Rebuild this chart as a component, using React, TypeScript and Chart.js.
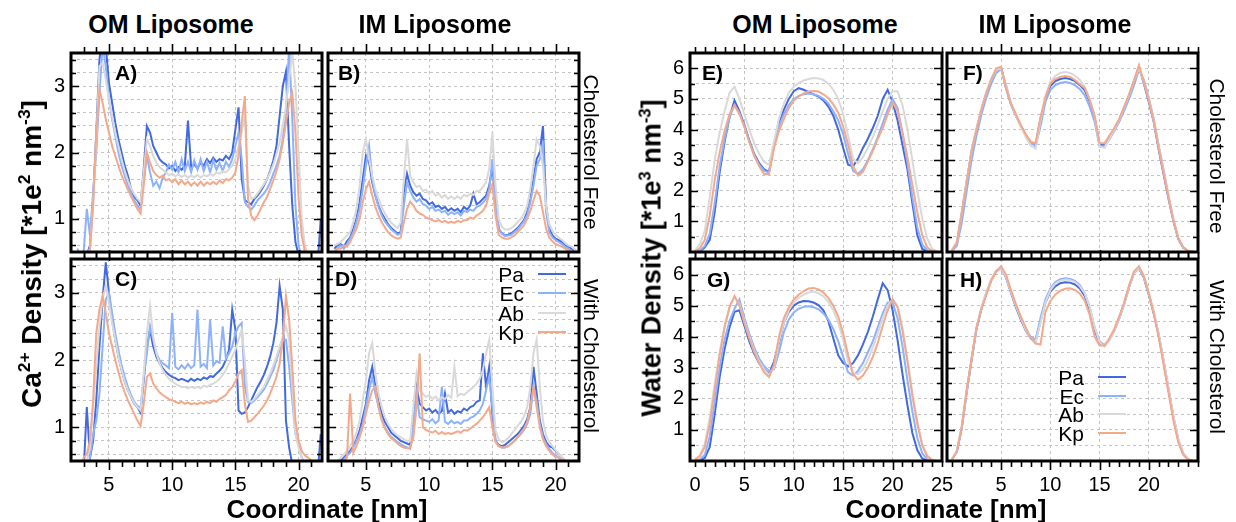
import React, { useEffect, useRef } from 'react';
import { Chart, registerables } from 'chart.js';

Chart.register(...registerables);

const FONT = '"Liberation Sans", Arial, Helvetica, sans-serif';

// ---------- shared axes ----------
const caX = [
  2.5, 2.75,
  3, 3.25, 3.5, 3.75, 4, 4.25, 4.5, 4.75, 5, 5.25, 5.5, 5.75, 6, 6.25, 6.5, 6.75,
  7, 7.25, 7.5, 7.75, 8, 8.25, 8.5, 8.75, 9, 9.25, 9.5, 9.75, 10, 10.25, 10.5, 10.75,
  11, 11.25, 11.5, 11.75, 12, 12.25, 12.5, 12.75, 13, 13.25, 13.5, 13.75, 14, 14.25, 14.5, 14.75,
  15, 15.25, 15.5, 15.75, 16, 16.25, 16.5, 16.75, 17, 17.25, 17.5, 17.75, 18, 18.25, 18.5, 18.75,
  19, 19.25, 19.5, 19.75, 20, 20.25, 20.5, 20.75, 21, 21.25, 21.5, 21.75,
];
const waterX = [
  0, 0.5, 1, 1.5, 2, 2.5, 3, 3.5, 4, 4.5,
  5, 5.5, 6, 6.5, 7, 7.5, 8, 8.5, 9, 9.5,
  10, 10.5, 11, 11.5, 12, 12.5, 13, 13.5, 14, 14.5,
  15, 15.5, 16, 16.5, 17, 17.5, 18, 18.5, 19, 19.5,
  20, 20.5, 21, 21.5, 22, 22.5, 23, 23.5, 24, 24.5,
];

const caXTicks = [5, 10, 15, 20];
const caXMinor = [3, 4, 5, 6, 7, 8, 9, 10, 11, 12, 13, 14, 15, 16, 17, 18, 19, 20, 21];
const caYTicks = [1, 2, 3];
const caYMinor = [0.6, 0.8, 1, 1.2, 1.4, 1.6, 1.8, 2, 2.2, 2.4, 2.6, 2.8, 3, 3.2, 3.4];
const waterXTicksOM = [0, 5, 10, 15, 20, 25];
const waterXTicksIM = [5, 10, 15, 20];
const waterXGrid = [5, 10, 15, 20];
const waterXMinor = [0, 1, 2, 3, 4, 5, 6, 7, 8, 9, 10, 11, 12, 13, 14, 15, 16, 17, 18, 19, 20, 21, 22, 23, 24, 25];
const waterYTicks = [1, 2, 3, 4, 5, 6];
const waterYMinor = [0.5, 1, 1.5, 2, 2.5, 3, 3.5, 4, 4.5, 5, 5.5, 6];

const seriesNames = ['Pa', 'Ec', 'Ab', 'Kp'];
const seriesColors = ['#4169e1', '#8cb2ff', '#d9d9d9', '#f5a88a'];

// ---------- Ca2+ density, panel A (OM, cholesterol free) ----------
const caA_Pa = [0.3, 0.3,
  0.35, 0.45, 0.6, 1.3, 2.3, 3.4, 3.8, 3.6, 3.05, 2.75, 2.45, 2.2, 2.0, 1.8, 1.65, 1.45,
  1.33, 1.28, 1.2, 1.75, 2.4, 2.3, 2.1, 2.0, 1.9, 1.85, 1.82, 1.76, 1.8, 1.72, 1.78, 1.74,
  1.8, 2.48, 1.78, 1.82, 1.76, 1.85, 1.8, 1.9, 1.84, 1.92, 1.86, 1.9, 1.88, 1.95, 1.9, 2.0,
  2.35, 2.68, 1.6, 1.28, 1.25, 1.22, 1.3, 1.35, 1.42, 1.5, 1.6, 1.72, 1.88, 2.1, 2.55, 3.0,
  3.22, 2.1, 1.2, 0.65, 0.45, 0.35, 0.3, 0.3, 0.3, 0.3, 0.3, 1.0];
const caA_Ec = [0.55, 0.45,
  0.5, 1.15, 0.75, 1.4, 2.0, 2.9, 3.6, 3.3, 2.8, 2.5, 2.25, 2.0, 1.8, 1.65, 1.5, 1.38,
  1.28, 1.2, 1.14, 1.6, 1.95, 1.7, 1.5, 1.56, 1.46, 1.62, 1.7, 1.82, 1.74, 1.86, 1.7, 1.9,
  1.72, 1.86, 1.7, 1.88, 1.74, 1.9, 1.72, 1.86, 1.7, 1.88, 1.74, 1.84, 1.72, 1.86, 1.78, 1.9,
  2.1, 2.3, 1.9, 1.25, 1.18, 1.14, 1.2, 1.28, 1.33, 1.38, 1.45, 1.55, 1.68, 1.8, 1.95, 2.2,
  2.6, 3.6, 2.5, 1.2, 0.6, 0.4, 0.3, 0.3, 0.3, 0.3, 0.3, 0.3];
const caA_Ab = [0.3, 0.3,
  0.35, 0.45, 0.55, 1.2, 2.2, 3.3, 3.35, 3.1, 2.8, 2.55, 2.3, 2.1, 1.9, 1.72, 1.58, 1.46,
  1.37, 1.3, 1.25, 1.7, 2.2, 2.1, 1.95, 1.85, 1.78, 1.74, 1.7, 1.66, 1.68, 1.64, 1.67, 1.63,
  1.66, 1.62, 1.65, 1.63, 1.66, 1.62, 1.66, 1.64, 1.68, 1.65, 1.7, 1.68, 1.72, 1.7, 1.75, 1.8,
  1.9, 2.1, 2.3, 2.55, 1.5, 1.3, 1.32, 1.38, 1.45, 1.52, 1.6, 1.7, 1.82, 1.98, 2.15, 2.4,
  2.7, 3.1, 3.5, 3.0, 2.0, 1.0, 0.6, 0.45, 0.35, 0.3, 0.3, 0.3];
const caA_Kp = [0.3, 0.3,
  0.35, 0.42, 0.55, 1.2, 2.3, 2.95, 2.75, 2.5, 2.3, 2.1, 1.95, 1.8, 1.66, 1.55, 1.44, 1.34,
  1.24, 1.15, 1.08, 1.5, 2.0, 1.85, 1.72, 1.66, 1.62, 1.65, 1.58, 1.6, 1.55, 1.6, 1.52, 1.58,
  1.52, 1.56, 1.5, 1.55, 1.5, 1.56, 1.5, 1.55, 1.52, 1.56, 1.52, 1.58, 1.54, 1.6, 1.58, 1.62,
  1.7, 1.95, 2.45, 2.85, 1.3, 1.05, 0.98, 1.05, 1.15, 1.25, 1.33, 1.45, 1.58, 1.72, 1.9, 2.15,
  2.45, 2.75, 2.9, 2.3, 1.3, 0.75, 0.5, 0.35, 0.3, 0.3, 0.3, 0.3];

// ---------- panel B (IM, cholesterol free) ----------
const caB_Pa = [0.55, 0.6,
  0.62, 0.58, 0.66, 0.72, 0.85, 1.0, 1.25, 1.6, 1.95, 1.85, 1.55, 1.35, 1.2, 1.08, 1.0, 0.92,
  0.86, 0.82, 0.78, 0.8, 1.4, 1.68, 1.5, 1.4, 1.35, 1.38, 1.3, 1.28, 1.22, 1.25, 1.18, 1.2,
  1.15, 1.18, 1.12, 1.16, 1.12, 1.15, 1.1, 1.18, 1.14, 1.2, 1.38, 1.22, 1.25, 1.3, 1.35, 1.5,
  1.78, 1.3, 0.85, 0.78, 0.75, 0.76, 0.78, 0.82, 0.86, 0.92, 0.98, 1.1, 1.3, 1.6, 1.9, 2.0,
  2.4, 1.2, 0.85, 0.75, 0.7, 0.68, 0.65, 0.6, 0.58, 0.55, 0.5, 0.45];
const caB_Ec = [0.5, 0.55,
  0.6, 0.55, 0.62, 0.7, 0.8, 0.95, 1.15, 1.45, 1.8, 2.1, 1.6, 1.35, 1.18, 1.05, 0.96, 0.9,
  0.84, 0.8, 0.76, 0.78, 1.2, 1.55, 1.42, 1.32, 1.26, 1.3, 1.22, 1.2, 1.15, 1.18, 1.12, 1.14,
  1.1, 1.12, 1.06, 1.1, 1.07, 1.1, 1.05, 1.12, 1.1, 1.14, 1.12, 1.18, 1.2, 1.24, 1.3, 1.45,
  1.9, 1.25, 0.85, 0.78, 0.74, 0.75, 0.76, 0.8, 0.84, 0.9, 0.96, 1.06, 1.25, 1.5, 1.8, 1.9,
  2.1, 1.1, 0.8, 0.72, 0.68, 0.65, 0.62, 0.58, 0.55, 0.52, 0.48, 0.45];
const caB_Ab = [0.6, 0.62,
  0.65, 0.7, 0.75, 0.8, 0.95, 1.15, 1.5, 2.0, 2.2, 1.9, 1.65, 1.45, 1.3, 1.18, 1.08, 1.0,
  0.94, 0.9, 0.86, 0.95, 1.6, 2.2, 1.65, 1.55, 1.48, 1.5, 1.42, 1.44, 1.38, 1.42, 1.35, 1.38,
  1.32, 1.36, 1.3, 1.34, 1.3, 1.34, 1.3, 1.36, 1.34, 1.38, 1.36, 1.42, 1.42, 1.48, 1.55, 1.75,
  2.3, 1.5, 1.0, 0.88, 0.84, 0.84, 0.86, 0.9, 0.95, 1.0, 1.08, 1.2, 1.45, 1.8, 2.2, 2.1,
  1.8, 1.2, 0.92, 0.82, 0.76, 0.72, 0.68, 0.64, 0.6, 0.58, 0.55, 0.5];
const caB_Kp = [0.5, 0.55,
  0.55, 0.6, 0.58, 0.65, 0.75, 0.85, 1.0, 1.25, 1.45, 1.56, 1.35, 1.18, 1.05, 0.95, 0.87, 0.8,
  0.75, 0.72, 0.7, 0.72, 0.95, 1.15, 1.26, 1.2, 1.12, 1.08, 1.06, 1.02, 1.0, 0.98, 0.96, 0.98,
  0.95, 0.97, 0.94, 0.96, 0.94, 0.97, 0.95, 0.98, 0.98, 1.02, 1.0, 1.05, 1.08, 1.12, 1.2, 1.38,
  1.52, 1.05, 0.76, 0.72, 0.7, 0.7, 0.72, 0.75, 0.8, 0.85, 0.9, 1.0, 1.12, 1.28, 1.42, 1.35,
  1.1, 0.85, 0.72, 0.66, 0.62, 0.6, 0.58, 0.55, 0.52, 0.5, 0.5, 0.48];

// ---------- panel C (OM, with cholesterol) ----------
const caC_Pa = [0.3, 0.3,
  0.35, 1.3, 0.55, 0.8, 1.4, 2.2, 2.9, 3.45, 3.0, 2.6, 2.3, 2.05, 1.85, 1.68, 1.55, 1.45,
  1.35, 1.3, 1.22, 1.7, 2.2, 2.45, 2.2, 2.05, 1.95, 1.88, 1.82, 1.78, 1.75, 1.73, 1.7, 1.72,
  1.7, 1.68, 1.72, 1.69, 1.72, 1.7, 1.74, 1.72, 1.76, 1.75, 1.8, 1.84, 1.9, 2.0, 2.15, 2.75,
  2.45, 1.25, 1.2, 1.22, 1.3, 1.4, 1.5, 1.6, 1.68, 1.78, 1.9, 2.05, 2.25, 2.55, 3.1, 2.75,
  1.1, 0.7, 0.45, 0.3, 0.3, 0.3, 0.3, 0.3, 0.3, 0.3, 0.3, 0.9];
const caC_Ec = [0.3, 0.3,
  0.3, 0.4, 0.55, 0.9, 1.1, 1.5, 2.2, 2.9, 3.0, 2.7, 2.4, 2.15, 1.92, 1.75, 1.6, 1.48,
  1.38, 1.32, 1.28, 1.75, 2.1, 2.5, 2.3, 2.1, 2.0, 1.95, 1.92, 1.88, 2.7, 1.9, 1.86, 1.92,
  1.87, 1.94, 1.88, 1.92, 2.75, 1.9, 1.94, 1.88, 2.6, 1.92, 1.98, 1.96, 2.5, 2.02, 2.1, 2.2,
  2.4, 2.5, 2.55, 1.6, 1.38, 1.36, 1.4, 1.45, 1.5, 1.56, 1.65, 1.75, 1.85, 2.0, 2.15, 2.3,
  2.3, 1.9, 1.4, 0.9, 0.75, 0.55, 0.45, 0.35, 0.3, 0.3, 0.3, 0.3];
const caC_Ab = [0.3, 0.3,
  0.35, 0.5, 0.7, 1.3, 1.9, 2.5, 2.9, 3.1, 2.85, 2.55, 2.3, 2.05, 1.85, 1.68, 1.55, 1.45,
  1.36, 1.3, 1.25, 1.8, 2.4, 2.8, 2.35, 2.1, 1.95, 1.85, 1.78, 1.72, 1.68, 1.65, 1.62, 1.6,
  1.6, 1.58, 1.6, 1.58, 1.6, 1.58, 1.62, 1.6, 1.63, 1.65, 1.68, 1.72, 1.78, 1.85, 1.95, 2.05,
  2.15, 2.3, 2.45, 2.0, 1.4, 1.38, 1.42, 1.48, 1.54, 1.6, 1.7, 1.8, 1.92, 2.05, 2.2, 2.35,
  2.5, 2.3, 1.6, 0.9, 0.7, 0.55, 0.45, 0.35, 0.3, 0.3, 0.3, 0.3];
const caC_Kp = [0.3, 0.3,
  0.55, 0.6, 0.8, 1.4, 2.4, 2.75, 2.95, 2.7, 2.4, 2.2, 2.0, 1.82, 1.65, 1.52, 1.4, 1.3,
  1.2, 1.1, 1.02, 1.35, 1.75, 1.8, 1.65, 1.58, 1.52, 1.48, 1.45, 1.42, 1.4, 1.38, 1.36, 1.38,
  1.35, 1.37, 1.34, 1.36, 1.34, 1.37, 1.35, 1.38, 1.36, 1.4, 1.38, 1.42, 1.45, 1.48, 1.55, 1.6,
  1.68, 1.8, 1.85, 1.35, 1.08, 1.1, 1.15, 1.2, 1.26, 1.32, 1.4, 1.5, 1.62, 1.75, 1.95, 2.3,
  2.95, 2.6, 1.9, 1.1, 0.8, 0.65, 0.58, 0.55, 0.5, 0.45, 0.35, 0.3];

// ---------- panel D (IM, with cholesterol) ----------
const caD_Pa = [0.35, 0.45,
  0.5, 0.55, 0.6, 0.65, 0.72, 0.82, 0.95, 1.15, 1.35, 1.7, 1.9, 1.6, 1.38, 1.2, 1.08, 1.0,
  0.92, 0.88, 0.84, 0.8, 0.78, 0.76, 0.74, 1.1, 1.6, 1.35, 1.3, 1.25, 1.28, 1.22, 1.26, 1.2,
  1.24, 1.5, 1.22, 1.26, 1.2, 1.24, 1.22, 1.28, 1.25, 1.3, 1.32, 1.38, 1.4, 2.1, 1.6, 1.9,
  1.2, 0.8, 0.74, 0.72, 0.74, 0.78, 0.82, 0.86, 0.9, 0.96, 1.02, 1.12, 1.3, 1.9, 1.5, 1.1,
  0.9, 0.78, 0.72, 0.7, 0.65, 0.6, 0.55, 0.5, 0.45, 0.4, 0.35, 0.3];
const caD_Ec = [0.35, 0.45,
  0.48, 0.52, 0.58, 0.62, 0.7, 0.8, 0.9, 1.05, 1.3, 1.55, 1.75, 1.5, 1.3, 1.12, 1.0, 0.92,
  0.86, 0.82, 0.78, 0.75, 0.72, 0.7, 0.68, 1.0, 1.5, 1.15, 1.12, 1.1, 1.08, 1.12, 1.06, 1.1,
  1.6, 1.08, 1.05, 1.1, 1.06, 1.08, 1.05, 1.1, 1.1, 1.14, 1.16, 1.2, 1.25, 1.35, 1.55, 1.75,
  1.3, 0.8, 0.72, 0.7, 0.7, 0.72, 0.76, 0.8, 0.85, 0.9, 0.96, 1.05, 1.2, 1.6, 1.4, 1.05,
  0.85, 0.75, 0.68, 0.62, 0.58, 0.55, 0.5, 0.45, 0.4, 0.35, 0.3, 0.3];
const caD_Ab = [0.45, 0.5,
  0.55, 0.6, 0.65, 0.72, 0.8, 0.92, 1.1, 1.4, 1.7, 2.1, 2.25, 1.8, 1.5, 1.3, 1.15, 1.05,
  0.98, 0.92, 0.88, 0.85, 0.82, 0.8, 0.8, 1.3, 1.8, 1.55, 1.5, 1.45, 1.48, 1.42, 1.46, 1.4,
  1.45, 1.42, 1.48, 1.44, 1.9, 1.46, 1.5, 1.48, 1.52, 1.56, 1.6, 1.65, 1.72, 1.85, 2.1, 2.3,
  1.6, 0.95, 0.82, 0.78, 0.8, 0.84, 0.9, 0.96, 1.02, 1.08, 1.16, 1.3, 1.6, 2.1, 2.3, 1.6,
  1.1, 0.88, 0.78, 0.72, 0.66, 0.6, 0.55, 0.5, 0.45, 0.4, 0.35, 0.3];
const caD_Kp = [0.3, 0.4,
  0.45, 0.5, 0.55, 1.5, 0.62, 0.72, 0.85, 1.0, 1.2, 1.4, 1.55, 1.6, 1.3, 1.1, 0.98, 0.9,
  0.84, 0.8, 0.76, 0.72, 0.7, 0.69, 0.7, 0.85, 1.3, 2.1, 1.0, 0.96, 0.94, 0.92, 0.95, 0.9,
  0.93, 0.9, 0.92, 0.9, 0.92, 0.94, 0.92, 0.96, 0.95, 0.98, 1.02, 1.05, 1.1, 1.15, 1.22, 1.3,
  1.0, 0.78, 0.72, 0.7, 0.7, 0.72, 0.76, 0.8, 0.86, 0.92, 0.98, 1.08, 1.3, 1.6, 1.3, 1.0,
  0.82, 0.72, 0.65, 0.6, 0.56, 0.55, 0.52, 0.5, 0.48, 0.45, 0.5, 0.42];

// ---------- water density, panel E (OM, cholesterol free) ----------
const wE_Pa = [0.0, 0.02, 0.15, 0.4, 1.3, 2.6, 3.6, 4.4, 4.95, 4.6,
  4.15, 3.65, 3.2, 2.9, 2.7, 2.62, 3.5, 4.2, 4.65, 5.0,
  5.25, 5.35, 5.3, 5.22, 5.15, 5.08, 4.95, 4.75, 4.45, 4.0,
  3.4, 2.85, 2.8, 3.05, 3.4, 3.7, 4.05, 4.45, 5.0, 5.3,
  4.9, 4.3, 3.5, 2.7, 1.6, 0.55, 0.1, 0.02, 0.0, 0.0];
const wE_Ec = [0.0, 0.05, 0.2, 0.6, 1.6, 2.8, 3.7, 4.4, 4.8, 4.55,
  4.1, 3.6, 3.15, 2.85, 2.65, 2.6, 3.45, 4.1, 4.5, 4.8,
  5.0, 5.1, 5.15, 5.18, 5.15, 5.1, 5.0, 4.85, 4.6, 4.3,
  3.85, 3.2, 2.65, 2.55, 2.7, 3.0, 3.35, 3.75, 4.2, 4.65,
  5.0, 4.7, 3.9, 2.9, 1.8, 0.8, 0.25, 0.05, 0.0, 0.0];
const wE_Ab = [0.05, 0.25, 0.7, 1.8, 3.0, 3.9, 4.6, 5.2, 5.4, 5.0,
  4.5, 4.0, 3.55, 3.2, 2.95, 2.85, 3.6, 4.35, 4.85, 5.2,
  5.4, 5.52, 5.6, 5.65, 5.68, 5.67, 5.62, 5.5, 5.3, 5.0,
  4.5, 3.8, 3.05, 2.9, 3.1, 3.4, 3.75, 4.15, 4.6, 5.0,
  5.25, 5.25, 4.8, 4.0, 3.0, 2.0, 1.1, 0.45, 0.1, 0.02];
const wE_Kp = [0.02, 0.12, 0.4, 1.2, 2.35, 3.25, 3.95, 4.5, 4.8, 4.5,
  4.1, 3.6, 3.15, 2.8, 2.55, 2.55, 3.4, 3.95, 4.35, 4.7,
  4.95, 5.08, 5.18, 5.24, 5.26, 5.24, 5.15, 5.02, 4.82, 4.55,
  4.1, 3.5, 2.8, 2.5, 2.62, 2.95, 3.3, 3.7, 4.05, 4.5,
  4.88, 4.6, 3.9, 3.1, 2.2, 1.3, 0.55, 0.15, 0.03, 0.0];

// ---------- panel F (IM, cholesterol free) ----------
const wF_Pa = [0.05, 0.3, 1.25, 2.3, 3.3, 4.0, 4.65, 5.2, 5.62, 5.95,
  6.02, 5.35, 4.82, 4.45, 4.12, 3.82, 3.58, 3.5, 4.35, 5.0,
  5.42, 5.58, 5.65, 5.68, 5.65, 5.58, 5.45, 5.28, 4.9, 4.4,
  3.5, 3.5, 3.75, 4.02, 4.32, 4.72, 5.12, 5.58, 6.05, 5.5,
  4.9, 4.25, 3.35, 2.55, 1.75, 1.0, 0.42, 0.14, 0.03, 0.0];
const wF_Ec = [0.03, 0.2, 0.95, 2.0, 3.0, 3.8, 4.5, 5.05, 5.5, 5.85,
  5.98, 5.45, 4.85, 4.45, 4.12, 3.82, 3.58, 3.45, 4.1, 4.9,
  5.3, 5.45, 5.52, 5.55, 5.52, 5.45, 5.32, 5.12, 4.75, 4.25,
  3.45, 3.45, 3.68, 3.95, 4.25, 4.62, 5.0, 5.45, 5.95, 5.62,
  5.05, 4.35, 3.5, 2.7, 1.85, 1.05, 0.45, 0.15, 0.03, 0.0];
const wF_Ab = [0.06, 0.35, 1.3, 2.35, 3.3, 4.05, 4.7, 5.25, 5.65, 5.95,
  6.0, 5.4, 4.85, 4.45, 4.1, 3.75, 3.48, 3.38, 4.3, 5.1,
  5.55, 5.75, 5.85, 5.88, 5.85, 5.76, 5.62, 5.4, 5.0, 4.45,
  3.45, 3.4, 3.7, 4.0, 4.32, 4.72, 5.12, 5.6, 6.02, 5.55,
  5.0, 4.3, 3.45, 2.65, 1.85, 1.05, 0.45, 0.15, 0.04, 0.0];
const wF_Kp = [0.05, 0.3, 1.3, 2.3, 3.3, 4.0, 4.65, 5.2, 5.65, 6.0,
  6.05, 5.35, 4.85, 4.5, 4.15, 3.85, 3.6, 3.55, 4.4, 5.05,
  5.5, 5.65, 5.72, 5.75, 5.72, 5.62, 5.48, 5.35, 4.95, 4.45,
  3.55, 3.55, 3.8, 4.05, 4.35, 4.75, 5.15, 5.6, 6.1, 5.55,
  4.95, 4.3, 3.4, 2.6, 1.8, 1.05, 0.45, 0.15, 0.03, 0.0];

// ---------- panel G (OM, with cholesterol) ----------
const wG_Pa = [0.0, 0.02, 0.1, 0.45, 1.5, 2.7, 3.6, 4.3, 4.8, 4.85,
  4.35, 3.85, 3.45, 3.15, 2.95, 2.8, 3.2, 3.8, 4.45, 4.8,
  5.0, 5.1, 5.15, 5.14, 5.1, 5.02, 4.85, 4.5, 3.95, 3.4,
  3.15, 3.05, 3.15, 3.4, 3.75, 4.15, 4.65, 5.2, 5.72, 5.5,
  4.85, 3.9, 2.8, 1.8, 0.9, 0.35, 0.08, 0.0, 0.0, 0.0];
const wG_Ec = [0.0, 0.05, 0.2, 0.8, 1.9, 3.0, 3.9, 4.5, 4.9, 5.2,
  4.6, 4.1, 3.65, 3.3, 3.05, 2.9, 2.95, 3.5, 4.15, 4.55,
  4.78, 4.9, 4.96, 4.98, 4.95, 4.88, 4.75, 4.55, 4.25, 3.85,
  3.35, 2.85, 2.75, 2.9, 3.15, 3.5, 3.85, 4.3, 4.75, 5.1,
  5.1, 4.6, 3.7, 2.6, 1.6, 0.75, 0.25, 0.05, 0.0, 0.0];
const wG_Ab = [0.05, 0.18, 0.55, 1.4, 2.5, 3.5, 4.35, 4.95, 5.3, 5.05,
  4.5, 4.0, 3.55, 3.2, 2.95, 2.78, 3.0, 3.85, 4.45, 4.85,
  5.1, 5.25, 5.35, 5.42, 5.45, 5.4, 5.3, 5.12, 4.85, 4.45,
  3.9, 3.2, 2.8, 2.8, 2.95, 3.25, 3.65, 4.1, 4.6, 5.0,
  5.2, 5.0, 4.3, 3.3, 2.2, 1.3, 0.55, 0.18, 0.04, 0.0];
const wG_Kp = [0.05, 0.15, 0.45, 1.2, 2.3, 3.4, 4.3, 4.95, 5.3, 5.0,
  4.45, 3.95, 3.5, 3.15, 2.85, 2.7, 3.1, 4.0, 4.6, 4.95,
  5.2, 5.35, 5.47, 5.55, 5.57, 5.52, 5.42, 5.25, 5.0, 4.65,
  4.1, 3.4, 2.8, 2.62, 2.75, 3.0, 3.35, 3.8, 4.35, 4.85,
  5.2, 4.95, 4.2, 3.2, 2.1, 1.2, 0.5, 0.15, 0.03, 0.0];

// ---------- panel H (IM, with cholesterol) ----------
const wH_Pa = [0.05, 0.3, 1.05, 2.2, 3.25, 4.25, 4.9, 5.4, 5.82, 6.1,
  6.22, 5.9, 5.42, 4.95, 4.55, 4.2, 3.95, 3.85, 4.5, 5.1,
  5.45, 5.62, 5.72, 5.75, 5.74, 5.68, 5.55, 5.3, 4.85, 4.2,
  3.8, 3.7, 3.9, 4.2, 4.6, 5.05, 5.6, 6.05, 6.2, 5.9,
  5.35, 4.75, 4.05, 3.2, 2.3, 1.4, 0.65, 0.22, 0.05, 0.0];
const wH_Ec = [0.05, 0.32, 1.08, 2.25, 3.3, 4.28, 4.92, 5.42, 5.85, 6.12,
  6.2, 5.92, 5.45, 5.0, 4.6, 4.25, 4.0, 3.9, 4.6, 5.2,
  5.55, 5.75, 5.85, 5.88, 5.86, 5.8, 5.66, 5.4, 4.95, 4.3,
  3.85, 3.72, 3.92, 4.22, 4.62, 5.08, 5.62, 6.08, 6.22, 5.92,
  5.38, 4.8, 4.1, 3.25, 2.35, 1.45, 0.7, 0.25, 0.05, 0.0];
const wH_Ab = [0.06, 0.35, 1.1, 2.25, 3.3, 4.3, 4.95, 5.45, 5.85, 6.12,
  6.22, 5.92, 5.45, 5.0, 4.6, 4.22, 3.95, 3.82, 4.45, 5.1,
  5.5, 5.7, 5.8, 5.84, 5.82, 5.76, 5.62, 5.38, 4.95, 4.3,
  3.82, 3.68, 3.88, 4.2, 4.6, 5.05, 5.6, 6.05, 6.22, 5.95,
  5.4, 4.8, 4.1, 3.25, 2.35, 1.45, 0.7, 0.25, 0.06, 0.0];
const wH_Kp = [0.05, 0.3, 1.1, 2.3, 3.3, 4.3, 4.9, 5.35, 5.8, 6.1,
  6.27, 6.0, 5.5, 5.05, 4.65, 4.3, 3.95, 3.78, 3.75, 4.8,
  5.15, 5.35, 5.48, 5.54, 5.56, 5.5, 5.38, 5.15, 4.7, 4.0,
  3.72, 3.72, 3.95, 4.25, 4.65, 5.1, 5.65, 6.1, 6.27, 5.95,
  5.4, 4.75, 4.0, 3.1, 2.2, 1.3, 0.6, 0.2, 0.05, 0.0];

// ---------- panel layout ----------
type PanelCfg = {
  key: string;
  frame: [number, number, number, number]; // left, top, right, bottom (layout only)
  xs: number[];
  series: number[][]; // Pa, Ec, Ab, Kp
  xMin: number; xMax: number; yMin: number; yMax: number;
  xGrid: number[]; xLabels: number[] | null; xMinor: number[];
  yMinor: number[]; yLabels: number[] | null;
  padL: number; padR: number; padB: number;
};

const CA = { xs: caX, xMin: 2, xMax: 21.85, yMin: 0.5, yMax: 3.5, xGrid: caXTicks, xMinor: caXMinor, yMinor: caYMinor };
const WA = { xs: waterX, xMin: -0.5, xMax: 25, yMin: 0, yMax: 6.5, xGrid: waterXGrid, xMinor: waterXMinor, yMinor: waterYMinor };

const panels: PanelCfg[] = [
  { key: 'A', frame: [71, 53, 322, 252], ...CA, series: [caA_Pa, caA_Ec, caA_Ab, caA_Kp], xLabels: null, yLabels: caYTicks, padL: 44, padR: 4, padB: 12 },
  { key: 'B', frame: [328, 53, 579, 252], ...CA, series: [caB_Pa, caB_Ec, caB_Ab, caB_Kp], xLabels: null, yLabels: null, padL: 4, padR: 4, padB: 12 },
  { key: 'C', frame: [71, 259, 322, 461], ...CA, series: [caC_Pa, caC_Ec, caC_Ab, caC_Kp], xLabels: caXTicks, yLabels: caYTicks, padL: 44, padR: 4, padB: 36 },
  { key: 'D', frame: [328, 259, 579, 461], ...CA, series: [caD_Pa, caD_Ec, caD_Ab, caD_Kp], xLabels: caXTicks, yLabels: null, padL: 4, padR: 4, padB: 36 },
  { key: 'E', frame: [690, 53, 942, 252], ...WA, series: [wE_Pa, wE_Ec, wE_Ab, wE_Kp], xLabels: null, yLabels: waterYTicks, padL: 44, padR: 4, padB: 12 },
  { key: 'F', frame: [947, 53, 1198, 252], ...WA, series: [wF_Pa, wF_Ec, wF_Ab, wF_Kp], xLabels: null, yLabels: null, padL: 4, padR: 4, padB: 12 },
  { key: 'G', frame: [690, 259, 942, 461], ...WA, series: [wG_Pa, wG_Ec, wG_Ab, wG_Kp], xLabels: waterXTicksOM, yLabels: waterYTicks, padL: 44, padR: 20, padB: 36 },
  { key: 'H', frame: [947, 259, 1198, 461], ...WA, series: [wH_Pa, wH_Ec, wH_Ab, wH_Kp], xLabels: waterXTicksIM, yLabels: null, padL: 4, padR: 4, padB: 36 },
];
const PAD_T = 12;

const frameTicksPlugin = {
  id: 'frameTicks',
  afterDraw(chart: any, _args: any, opts: any) {
    const { ctx, chartArea } = chart;
    const { left, top, right, bottom } = chartArea;
    const xs = chart.scales.x;
    const ys = chart.scales.y;
    ctx.save();
    ctx.strokeStyle = '#000';
    ctx.lineWidth = 1.6;
    ctx.beginPath();
    for (const v of opts.yMinor as number[]) {
      const p = Math.round(ys.getPixelForValue(v)) + 0.5;
      const len = Number.isInteger(v) ? 8 : 5;
      ctx.moveTo(left, p); ctx.lineTo(left + len, p);
      ctx.moveTo(right, p); ctx.lineTo(right - len, p);
    }
    for (const v of opts.xMinor as number[]) {
      const p = Math.round(xs.getPixelForValue(v)) + 0.5;
      const len = (opts.xGrid as number[]).includes(v) ? 9 : 6;
      ctx.moveTo(p, top); ctx.lineTo(p, top - len);
      ctx.moveTo(p, bottom); ctx.lineTo(p, bottom + len);
    }
    ctx.stroke();
    ctx.lineWidth = 3;
    ctx.strokeRect(left, top, right - left, bottom - top);
    ctx.restore();
  },
};

function Panel({ cfg }: { cfg: PanelCfg }) {
  const ref = useRef<HTMLCanvasElement>(null);
  const [fl, ft, fr, fb] = cfg.frame;
  const w = fr - fl + cfg.padL + cfg.padR;
  const h = fb - ft + PAD_T + cfg.padB;
  useEffect(() => {
    const order = [3, 2, 1, 0]; // Kp drawn on top, Pa at the bottom
    const datasets = order.map((si) => ({
      label: seriesNames[si],
      data: cfg.xs.map((x, i) => ({ x, y: cfg.series[si][i] })),
      borderColor: seriesColors[si],
      borderWidth: 2,
      pointRadius: 0,
      tension: 0,
      fill: false,
    }));
    const chart = new Chart(ref.current as HTMLCanvasElement, {
      type: 'line',
      data: { datasets },
      options: {
        animation: false,
        responsive: false,
        maintainAspectRatio: false,
        events: [],
        parsing: false,
        layout: { padding: { left: 0, right: cfg.padR, top: PAD_T, bottom: 0 } },
        plugins: {
          legend: { display: false },
          tooltip: { enabled: false },
          frameTicks: { xMinor: cfg.xMinor, xGrid: cfg.xGrid, yMinor: cfg.yMinor },
        } as any,
        scales: {
          x: {
            type: 'linear',
            min: cfg.xMin,
            max: cfg.xMax,
            afterBuildTicks: (s: any) => {
              const vals = cfg.xLabels ? Array.from(new Set([...cfg.xGrid, ...cfg.xLabels])).sort((a, b) => a - b) : cfg.xGrid;
              s.ticks = vals.map((v) => ({ value: v }));
            },
            afterFit: (s: any) => {
              s.paddingLeft = 0; s.paddingRight = 0; s.paddingTop = 0; s.paddingBottom = 0;
              s.height = cfg.padB;
            },
            grid: {
              color: (c: any) => (cfg.xGrid.includes(c.tick?.value) ? '#c4c4c4' : 'rgba(0,0,0,0)'),
              lineWidth: 1,
              drawTicks: false,
            },
            border: { display: false, dash: [3, 3] },
            ticks: {
              display: !!cfg.xLabels,
              autoSkip: false,
              maxRotation: 0,
              padding: 12,
              color: '#000',
              font: { family: FONT, size: 20 },
              callback: (v: any) => String(v),
            },
          },
          y: {
            type: 'linear',
            min: cfg.yMin,
            max: cfg.yMax,
            afterBuildTicks: (s: any) => {
              s.ticks = cfg.yMinor.map((v) => ({ value: v }));
            },
            afterFit: (s: any) => {
              s.paddingLeft = 0; s.paddingRight = 0; s.paddingTop = 0; s.paddingBottom = 0;
              s.width = cfg.padL;
            },
            grid: { color: '#c4c4c4', lineWidth: 1, drawTicks: false },
            border: { display: false, dash: [3, 3] },
            ticks: {
              display: !!cfg.yLabels,
              autoSkip: false,
              padding: 6,
              color: '#000',
              font: { family: FONT, size: 20 },
              callback: (v: any) => (cfg.yLabels && cfg.yLabels.includes(v) ? String(v) : ''),
            },
          },
        },
      },
      plugins: [frameTicksPlugin],
    } as any);
    return () => chart.destroy();
  }, []);
  return (
    <canvas
      ref={ref}
      width={w}
      height={h}
      style={{ position: 'absolute', left: fl - cfg.padL, top: ft - PAD_T, width: w, height: h }}
    />
  );
}

const textBase: React.CSSProperties = {
  position: 'absolute',
  fontFamily: FONT,
  color: '#000',
  whiteSpace: 'nowrap',
  lineHeight: 1,
};

function Txt({ x, y, size, bold, rot, align, children }: any) {
  const tx = align === 'left' ? '0' : align === 'right' ? '-100%' : '-50%';
  return (
    <div
      style={{
        ...textBase,
        left: x,
        top: y,
        fontSize: size,
        fontWeight: bold ? 'bold' : 'normal',
        transform: `translate(${tx}, -50%)${rot ? ` rotate(${rot}deg)` : ''}`,
        transformOrigin: align === 'left' ? 'left center' : 'center center',
      }}
    >
      {children}
    </div>
  );
}

const supStyle: React.CSSProperties = { fontSize: '0.62em', verticalAlign: '0.62em', lineHeight: 0 };

const panelLetters = [
  { t: 'A)', x: 115, y: 72 }, { t: 'B)', x: 338, y: 72 },
  { t: 'C)', x: 115, y: 278 }, { t: 'D)', x: 335, y: 278 },
  { t: 'E)', x: 702, y: 72 }, { t: 'F)', x: 963, y: 72 },
  { t: 'G)', x: 707, y: 279 }, { t: 'H)', x: 960, y: 279 },
];

function Legend({ right, rows }: { right: number; rows: number[] }) {
  return (
    <>
      {seriesNames.map((n, i) => (
        <React.Fragment key={n}>
          <Txt x={right} y={rows[i]} size={21} align="right">{n}</Txt>
          <div style={{ position: 'absolute', left: right + 14, top: rows[i] - 1, width: 28, height: 2, background: seriesColors[i] }} />
        </React.Fragment>
      ))}
    </>
  );
}

export default function App() {
  return (
    <div style={{ position: 'absolute', left: 0, top: 0, width: 1236, height: 522, overflow: 'hidden', background: '#fff' }}>
      {panels.map((p) => <Panel key={p.key} cfg={p} />)}
      <Txt x={171} y={24} size={25} bold>OM Liposome</Txt>
      <Txt x={435} y={24} size={25} bold>IM Liposome</Txt>
      <Txt x={815} y={24} size={25} bold>OM Liposome</Txt>
      <Txt x={1055} y={24} size={25} bold>IM Liposome</Txt>
      <Txt x={327} y={509} size={26} bold>Coordinate [nm]</Txt>
      <Txt x={946} y={509} size={26} bold>Coordinate [nm]</Txt>
      <Txt x={32} y={254} size={28} bold rot={-90}>
        Ca<sup style={supStyle}>2+</sup> Density [*1e<sup style={supStyle}>2</sup> nm<sup style={supStyle}>-3</sup>]
      </Txt>
      <Txt x={652} y={258} size={27} bold rot={-90}>
        Water Density [*1e<sup style={supStyle}>3</sup> nm<sup style={supStyle}>-3</sup>]
      </Txt>
      <Txt x={591} y={152} size={21} rot={90}>Cholesterol Free</Txt>
      <Txt x={591} y={356} size={21} rot={90}>With Cholesterol</Txt>
      <Txt x={1217} y={156} size={21} rot={90}>Cholesterol Free</Txt>
      <Txt x={1217} y={357} size={21} rot={90}>With Cholesterol</Txt>
      {panelLetters.map((l) => (
        <Txt key={l.t} x={l.x} y={l.y} size={21} bold align="left">{l.t}</Txt>
      ))}
      <Legend right={524} rows={[273.5, 293, 312.5, 332]} />
      <Legend right={1084} rows={[377, 395.5, 414, 432.5]} />
    </div>
  );
}
